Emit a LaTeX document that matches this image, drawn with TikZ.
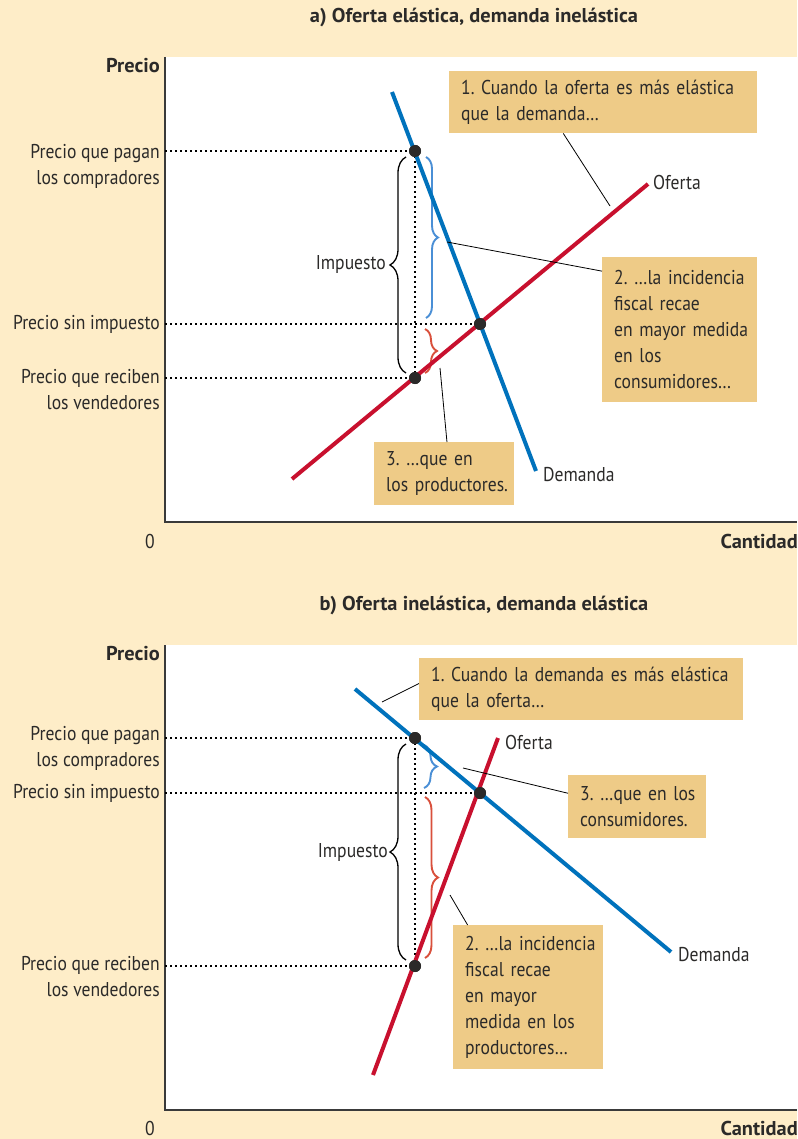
\documentclass[tikz,border=0pt]{standalone}
\usepackage{fontspec}
\setmainfont{PT Sans}[FakeStretch=0.88, BoldFeatures={FakeStretch=1.02}]
\usetikzlibrary{positioning,decorations.pathreplacing}
\definecolor{bgcream}{HTML}{FEEDC8}
\definecolor{boxtan}{HTML}{EECB87}
\definecolor{dblue}{HTML}{0072BC}
\definecolor{sred}{HTML}{C8102E}
\definecolor{bblue}{HTML}{4A8FD6}
\definecolor{bred}{HTML}{D9503C}
\definecolor{txtgrey}{HTML}{2B2A29}
\definecolor{axgrey}{HTML}{3A3A3A}
\tikzset{
  lbl/.style  ={font=\fontsize{20}{26}\selectfont, text=txtgrey, inner sep=0pt, align=right},
  axl/.style  ={lbl, font=\fontsize{20}{26}\selectfont\bfseries},
  ttl/.style  ={axl},
  box/.style  ={fill=boxtan, anchor=north west, inner xsep=12pt, inner ysep=4pt,
                align=left, font=\fontsize{20}{26}\selectfont, text=txtgrey,
                execute at begin node={\hyphenpenalty=10000\hbadness=10000\hfuzz=40pt}},
  axis/.style ={draw=axgrey, line width=2pt},
  guide/.style={draw=black, line width=1.8pt, dash pattern=on 1.8pt off 3.2pt},
  dem/.style  ={draw=dblue, line width=4pt},
  sup/.style  ={draw=sred, line width=4pt},
  pt/.style   ={circle, fill=txtgrey, minimum size=12pt, inner sep=0pt},
  brc/.style  ={decorate, decoration={brace, amplitude=#1}, line width=1.3pt},
  cbrc/.style ={brc=#1, line width=1.9pt},
  lead/.style ={draw=black, line width=0.8pt}
}
\frenchspacing
\begin{document}
\begin{tikzpicture}[x=1pt,y=-1pt]
  \useasboundingbox[fill=bgcream] (0,0) rectangle (797,1139);

  % a) elastic supply
  \node[ttl] (tta) at (474,18) {a) Oferta elástica, demanda inelástica};
  \fill[white] (165,57) rectangle (797,522);
  \coordinate (ya) at (165,57);
  \coordinate (oa) at (165,522);
  \coordinate (xa) at (797,522);
  \draw[axis] (ya) -- (oa) -- (xa);
  \node[axl,anchor=east] (pra) at (160,66) {Precio};
  \node[lbl,anchor=east] (za) at (155,541) {0};
  \node[axl,anchor=east] (qa) at (798,541) {Cantidad};

  \node[pt] (pba) at (415,151) {};
  \node[pt] (eqa) at (480,324) {};
  \node[pt] (psa) at (415,378) {};
  \draw[guide] (pba -| oa) -- (pba.center);
  \draw[guide] (eqa -| oa) -- (eqa.center);
  \draw[guide] (psa -| oa) -- (psa.center);
  \draw[guide] (pba.center) -- (psa.center);

  \node[lbl,anchor=east] (lpba) at (160,166) {Precio que pagan\\los compradores};
  \node[lbl,anchor=east] (leqa) at (160,324) {Precio sin impuesto};
  \node[lbl,anchor=east] (lpsa) at (160,390) {Precio que reciben\\los vendedores};

  \draw[brc=16pt] (406,373) -- (406,157);
  \node[lbl,anchor=east] (ima) at (386,265) {Impuesto};
  \draw[cbrc=12pt,draw=bblue] (426,157) -- (426,318);
  \draw[cbrc=12pt,draw=bred] (425,329) -- (425,373);

  \coordinate (da1) at (392,92);  \coordinate (da2) at (536,471);
  \coordinate (sa1) at (292,479); \coordinate (sa2) at (648,184);
  \draw[dem] (da1) -- (da2);
  \draw[sup] (sa1) -- (sa2);
  \node[lbl,anchor=west] (oka) at (653,183) {Oferta};
  \node[lbl,anchor=west] (dka) at (543,475) {Demanda};
  \node[pt] at (pba) {}; \node[pt] at (eqa) {}; \node[pt] at (psa) {};

  \node[box, text width=284pt, minimum height=62pt] (b1a) at (449,71)
    {1.~Cuando~la~oferta~es~más~elástica\\que~la~demanda…};
  \node[box, text width=131pt, minimum height=145pt] (b2a) at (602,257)
    {2.~…la~incidencia\\fiscal~recae\\en~mayor~medida\\en~los\\consumidores…};
  \node[box, text width=116pt, minimum height=63pt] (b3a) at (374,442)
    {3.~…que~en\\los~productores.};
  \coordinate (l1a) at (610,206);
  \coordinate (l2a) at (447,242);
  \coordinate (l3a) at (440,368);
  \draw[lead] (l1a) -- (b1a.218);
  \draw[lead] (l2a) -- (b2a.143);
  \draw[lead] (l3a) -- (b3a.85);

  % b) inelastic supply
  \node[ttl] (ttb) at (484,605) {b) Oferta inelástica, demanda elástica};
  \fill[white] (165,645) rectangle (797,1110);
  \coordinate (yb) at (165,645);
  \coordinate (ob) at (165,1110);
  \coordinate (xb) at (797,1110);
  \draw[axis] (yb) -- (ob) -- (xb);
  \node[axl,anchor=east] (prb) at (160,654) {Precio};
  \node[lbl,anchor=east] (zb) at (155,1128) {0};
  \node[axl,anchor=east] (qb) at (798,1128) {Cantidad};

  \node[pt] (pbb) at (415,738) {};
  \node[pt] (eqb) at (480,793) {};
  \node[pt] (psb) at (415,966) {};
  \draw[guide] (pbb -| ob) -- (pbb.center);
  \draw[guide] (eqb -| ob) -- (eqb.center);
  \draw[guide] (psb -| ob) -- (psb.center);
  \draw[guide] (pbb.center) -- (psb.center);

  \node[lbl,anchor=east] (lpbb) at (160,748) {Precio que pagan\\los compradores};
  \node[lbl,anchor=east] (leqb) at (160,793) {Precio sin impuesto};
  \node[lbl,anchor=east] (lpsb) at (160,977) {Precio que reciben\\los vendedores};

  \draw[brc=16pt] (406,960) -- (406,744);
  \node[lbl,anchor=east] (imb) at (388,852) {Impuesto};
  \draw[cbrc=13pt,draw=bblue] (424,745) -- (424,788);
  \draw[cbrc=13pt,draw=bred] (425,797) -- (425,958);

  \coordinate (db1) at (355,689); \coordinate (db2) at (671,952);
  \coordinate (sb1) at (373,1075); \coordinate (sb2) at (498,738);
  \draw[dem] (db1) -- (db2);
  \draw[sup] (sb1) -- (sb2);
  \node[lbl,anchor=west] (okb) at (505,742) {Oferta};
  \node[lbl,anchor=west] (dkb) at (678,955) {Demanda};
  \node[pt] at (pbb) {}; \node[pt] at (eqb) {}; \node[pt] at (psb) {};

  \node[box, text width=300pt, minimum height=62pt] (b1b) at (419,658)
    {1.~Cuando~la~demanda~es~más~elástica\\que~la~oferta…};
  \node[box, text width=114pt, minimum height=63pt] (b3b) at (568,775)
    {3.~…que~en~los\\consumidores.};
  \node[box, text width=126pt, minimum height=144pt] (b2b) at (453,925)
    {2.~…la~incidencia\\fiscal~recae\\en~mayor\\medida~en~los\\productores…};
  \coordinate (l1b) at (382,702);
  \coordinate (l3b) at (463,768);
  \coordinate (l2b) at (450,895);
  \draw[lead] (l1b) -- (b1b.178);
  \draw[lead] (l3b) -- (b3b.169);
  \draw[lead] (l2b) -- (b2b.130);
\end{tikzpicture}
\end{document}
